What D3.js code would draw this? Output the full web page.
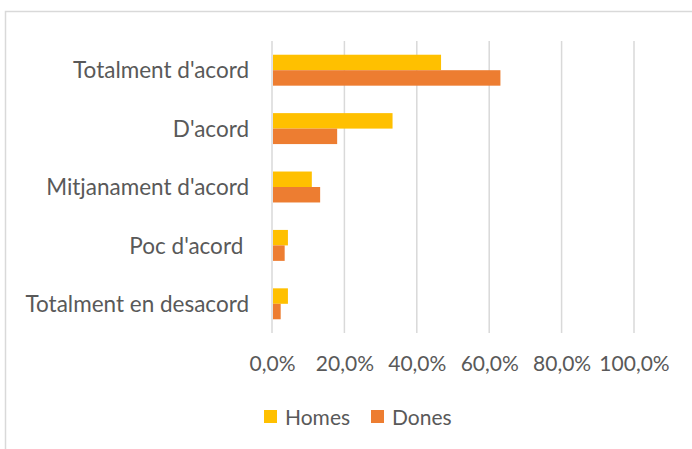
<!DOCTYPE html>
<html>
<head>
<meta charset="utf-8">
<script src="https://cdn.jsdelivr.net/npm/d3@7"></script>
<style>
  html, body { margin: 0; padding: 0; background: #fff; }
  svg { display: block; }
  text { font-family: Lato, "Open Sans", sans-serif; fill: #595959; white-space: pre; }
</style>
</head>
<body>
<svg id="chart" width="692" height="449"></svg>
<script>
// Response categories (top to bottom)
const categories = ["Totalment d'acord", "D'acord", "Mitjanament d'acord", "Poc d'acord ", "Totalment en desacord"];
// Share of respondents, in percent
const homes = [46.7, 33.3, 11.0, 4.4, 4.4];
const dones = [63.1, 18.0, 13.3, 3.5, 2.4];
const seriesNames = ["Homes", "Dones"];
const seriesColors = ["#FFC000", "#ED7D31"];
const tickValues = [0, 20, 40, 60, 80, 100];

const svg = d3.select("#chart");

// Outer chart frame
svg.append("rect")
  .attr("x", 5.5).attr("y", 11.5)
  .attr("width", 700).attr("height", 450)
  .attr("fill", "none").attr("stroke", "#d9d9d9").attr("stroke-width", 1.5);

const x = d3.scaleLinear().domain([0, 100]).range([272, 634]);
const y = d3.scaleBand().domain(categories).range([41, 333]).paddingInner(0.47).paddingOuter(0.235);
const sub = d3.scaleBand().domain(seriesNames).range([0, y.bandwidth()]);

// Vertical gridlines
svg.append("g").selectAll("line").data(tickValues).join("line")
  .attr("x1", d => x(d)).attr("x2", d => x(d))
  .attr("y1", 41).attr("y2", 333)
  .attr("stroke", "#d9d9d9").attr("stroke-width", 1.5);

// Bars
const rows = categories.map((c, i) => ({ c, values: [homes[i], dones[i]] }));
const groups = svg.append("g").selectAll("g").data(rows).join("g")
  .attr("transform", d => `translate(0,${y(d.c)})`);
groups.selectAll("rect").data(d => d.values.map((v, j) => ({ v, s: seriesNames[j], col: seriesColors[j] })))
  .join("rect")
  .attr("x", x(0) + 1)
  .attr("y", d => sub(d.s))
  .attr("width", d => x(d.v) - x(0) - 1)
  .attr("height", sub.bandwidth())
  .attr("fill", d => d.col);

// Category labels
svg.append("g").selectAll("text").data(categories).join("text")
  .attr("x", 249)
  .attr("y", d => y(d) + y.bandwidth() / 2)
  .attr("dy", "0.36em")
  .attr("text-anchor", "end")
  .attr("font-size", 22.5)
  .text(d => d);

// Value axis labels
const fmt = v => v.toFixed(1).replace(".", ",") + "%";
const xAxis = d3.axisBottom(x).tickValues(tickValues).tickFormat(fmt).tickSize(0).tickPadding(0);
const ax = svg.append("g").attr("transform", "translate(0,371)").call(xAxis);
ax.select(".domain").remove();
ax.selectAll("text").attr("font-size", 21).attr("fill", "#595959").attr("dy", 0).attr("y", 0)
  .style("font-family", "Lato, 'Open Sans', sans-serif");

// Legend
const legendX = [264, 371];
const lg = svg.append("g").selectAll("g").data(seriesNames).join("g")
  .attr("transform", (d, i) => `translate(${legendX[i]},410)`);
lg.append("rect").attr("width", 13).attr("height", 13).attr("fill", (d, i) => seriesColors[i]);
lg.append("text").attr("x", 21).attr("y", 14.5).attr("font-size", 21).text(d => d);
</script>
</body>
</html>
